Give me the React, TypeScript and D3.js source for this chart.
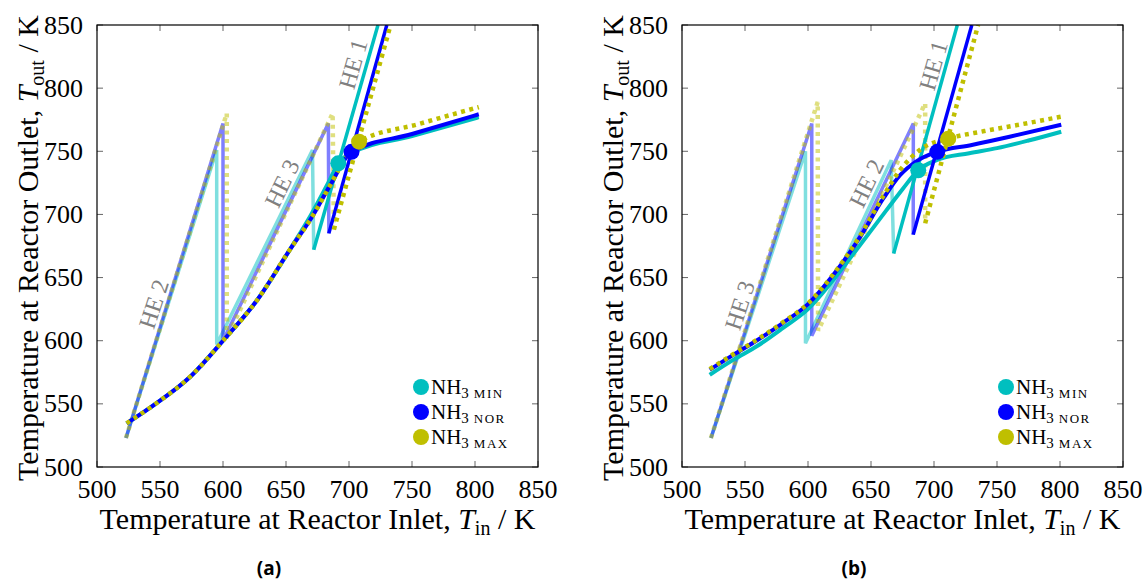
import React from 'react';
import * as d3 from 'd3';

type Pt = [number, number];

const xTicks = [500, 550, 600, 650, 700, 750, 800, 850];
const yTicks = [500, 550, 600, 650, 700, 750, 800, 850];
const caseNames = ['MIN', 'NOR', 'MAX'];
const caseColors = ['#00BFBF', '#0000FF', '#BFBF00'];

// ---- panel (a) ----
const sawA_min: Pt[] = [[523, 523], [595, 751], [595, 597], [671, 751], [672, 672]];
const sawA_nor: Pt[] = [[523, 523], [600, 772], [600, 600], [683.6, 772], [684, 685]];
const sawA_max: Pt[] = [[523, 523], [603, 780], [603, 602], [687, 780], [688, 688]];

const he1A_min: Pt[] = [[672, 672], [723, 850]];
const he1A_nor: Pt[] = [[684, 685], [730, 850]];
const he1A_max: Pt[] = [[688, 688], [733, 850]];

const curveA_min: Pt[] = [[523.5, 534.6], [547, 550.4], [574, 571.5], [600, 600], [627, 632], [653, 672], [670, 700], [684, 726], [691.5, 740.5], [702, 748.5], [750, 762], [803, 777]];
const curveA_nor: Pt[] = [[523.5, 534.6], [547, 550.4], [574, 571.5], [600, 600], [627, 632], [653, 672], [670, 697], [685, 723], [702, 749.6], [750, 763.7], [803, 779.3]];
const curveA_max: Pt[] = [[523.5, 534.6], [547, 550.4], [574, 571.5], [600, 600], [627, 632], [653, 672], [670, 697], [685, 723], [695, 741], [708, 757.6], [755, 771.5], [803, 785]];

const opA: Pt[] = [[691.5, 740.5], [702, 749.6], [708, 757.6]];

// ---- panel (b) ----
const sawB_min: Pt[] = [[523, 523], [598, 750], [598, 598], [666, 743], [668, 669]];
const sawB_nor: Pt[] = [[523, 523], [603, 772], [603, 604], [683.6, 772], [683.5, 684]];
const sawB_max: Pt[] = [[523, 523], [607.7, 789], [608, 608], [693, 788], [693, 693]];

const he1B_min: Pt[] = [[668, 669], [718.5, 850]];
const he1B_nor: Pt[] = [[683.5, 684], [730, 850]];
const he1B_max: Pt[] = [[693, 693], [735, 850]];

const curveB_min: Pt[] = [[522, 573], [541, 585], [560, 596], [580, 610], [600, 625], [620, 648], [640, 674], [662, 703], [675, 720], [687.5, 735], [702, 743], [728, 748.5], [750, 752.5], [775, 758.5], [801, 765.5]];
const curveB_nor: Pt[] = [[522, 577], [541, 589], [559, 600], [580, 614], [600, 629], [620, 652], [640, 680], [660, 713], [673, 731], [686, 742], [702.6, 749.6], [730, 755], [760, 761.5], [801, 771]];
const curveB_max: Pt[] = [[522, 577.5], [541, 589.5], [559, 600.5], [580, 614.5], [600, 629.5], [620, 652.5], [640, 681], [660, 715], [673, 735], [690, 752], [711.3, 760], [740, 766], [770, 771.5], [801, 777.4]];

const opB: Pt[] = [[687.5, 735], [702.6, 749.6], [711.3, 760]];

type HeLabel = { text: string; at: Pt; angle: number };
const labelsA: HeLabel[] = [
  { text: 'HE 2', at: [545.2, 629], angle: -72 },
  { text: 'HE 3', at: [647, 724.6], angle: -64 },
  { text: 'HE 1', at: [703.4, 819], angle: -74 },
];
const labelsB: HeLabel[] = [
  { text: 'HE 3', at: [546, 628], angle: -72 },
  { text: 'HE 2', at: [646.6, 724.6], angle: -64 },
  { text: 'HE 1', at: [699.5, 818], angle: -74 },
];

const serif = 'Liberation Serif, DejaVu Serif, serif';

type PanelProps = {
  left: number;
  id: string;
  saw: Pt[][];
  he1: Pt[][];
  curves: Pt[][];
  ops: Pt[];
  labels: HeLabel[];
  letter: string;
};

const Panel = ({ left, id, saw, he1, curves, ops, labels, letter }: PanelProps) => {
  const top = 25;
  const w = 441;
  const h = 442;
  const x = d3.scaleLinear().domain([500, 850]).range([left, left + w]);
  const y = d3.scaleLinear().domain([500, 850]).range([top + h, top]);
  const straight = d3.line<Pt>().x(d => x(d[0])).y(d => y(d[1]));
  const smooth = d3.line<Pt>().x(d => x(d[0])).y(d => y(d[1])).curve(d3.curveMonotoneX);
  const dotted = (i: number) => (i === 2 ? '4 4.5' : undefined);

  return (
    <g>
      <defs>
        <clipPath id={'clip' + id}>
          <rect x={left} y={top} width={w} height={h} />
        </clipPath>
      </defs>
      <g clipPath={`url(#clip${id})`} fill="none">
        {saw.map((pts, i) => (
          <path key={'s' + i} d={straight(pts) || ''} stroke={caseColors[i]} strokeOpacity={0.5}
            strokeWidth={i === 2 ? 4.5 : 3.5} strokeDasharray={dotted(i)} />
        ))}
        {he1.map((pts, i) => (
          <g key={'g' + i}>
            <path d={straight(pts) || ''} stroke={caseColors[i]} strokeWidth={i === 2 ? 4.5 : 3.5}
              strokeDasharray={dotted(i)} />
            <path d={smooth(curves[i]) || ''} stroke={caseColors[i]} strokeWidth={i === 2 ? 4.5 : 4}
              strokeDasharray={dotted(i)} />
          </g>
        ))}
        {ops.map((p, i) => (
          <circle key={'o' + i} cx={x(p[0])} cy={y(p[1])} r={8} fill={caseColors[i]} />
        ))}
      </g>

      {labels.map((l, i) => (
        <text key={'l' + i} transform={`translate(${x(l.at[0])},${y(l.at[1])}) rotate(${l.angle})`}
          textAnchor="middle" dominantBaseline="central" style={{ fontFamily: serif }} fontSize={24} fill="#808080">
          {l.text}
        </text>
      ))}

      {/* ticks */}
      {xTicks.map(t => (
        <g key={'xt' + t} stroke="#666" strokeWidth={1}>
          <line x1={x(t)} x2={x(t)} y1={top + h} y2={top + h - 6} />
          <line x1={x(t)} x2={x(t)} y1={top} y2={top + 6} />
        </g>
      ))}
      {yTicks.map(t => (
        <g key={'yt' + t} stroke="#666" strokeWidth={1}>
          <line x1={left} x2={left + 6} y1={y(t)} y2={y(t)} />
          <line x1={left + w} x2={left + w - 6} y1={y(t)} y2={y(t)} />
        </g>
      ))}
      <rect x={left} y={top} width={w} height={h} fill="none" stroke="#000" strokeWidth={1.2} />

      {xTicks.map(t => (
        <text key={'xl' + t} x={x(t)} y={top + h + 31} textAnchor="middle" style={{ fontFamily: serif }} fontSize={26}>{t}</text>
      ))}
      {yTicks.map(t => (
        <text key={'yl' + t} x={left - 14} y={y(t) + 8.5} textAnchor="end" style={{ fontFamily: serif }} fontSize={26}>{t}</text>
      ))}

      <text x={left + w / 2} y={top + h + 62} textAnchor="middle" style={{ fontFamily: serif }} fontSize={30}>
        Temperature at Reactor Inlet, <tspan fontStyle="italic">T</tspan>
        <tspan fontSize={20} dy={6}>in</tspan>
        <tspan dy={-6}> / K</tspan>
      </text>
      <text transform={`translate(${left - 59},${top + h / 2 + 2}) rotate(-90)`} textAnchor="middle" style={{ fontFamily: serif }} fontSize={30}>
        Temperature at Reactor Outlet, <tspan fontStyle="italic">T</tspan>
        <tspan fontSize={20} dy={6}>out</tspan>
        <tspan dy={-6}> / K</tspan>
      </text>

      {/* legend */}
      {caseNames.map((n, i) => (
        <g key={'lg' + n}>
          <circle cx={left + 324} cy={387 + i * 25} r={8} fill={caseColors[i]} />
          <text x={left + 334} y={387 + i * 25 + 7} style={{ fontFamily: serif }} fontSize={21}>
            NH<tspan fontSize={15} dy={4}>3</tspan><tspan fontSize={13} dx={5} letterSpacing={1.5}>{n}</tspan>
          </text>
        </g>
      ))}

      <text x={left + 172} y={575} textAnchor="middle" style={{ fontFamily: '"Open Sans", "DejaVu Sans", sans-serif' }}
        fontSize={19} fontWeight={700}>
        ({letter})
      </text>
    </g>
  );
};

const App = () => (
  <div style={{ position: 'absolute', left: 0, top: 0 }}>
    <svg width={1145} height={581} style={{ display: 'block', background: '#fff' }}>
      <Panel left={97} id="a" saw={[sawA_min, sawA_nor, sawA_max]} he1={[he1A_min, he1A_nor, he1A_max]}
        curves={[curveA_min, curveA_nor, curveA_max]} ops={opA} labels={labelsA} letter="a" />
      <Panel left={682} id="b" saw={[sawB_min, sawB_nor, sawB_max]} he1={[he1B_min, he1B_nor, he1B_max]}
        curves={[curveB_min, curveB_nor, curveB_max]} ops={opB} labels={labelsB} letter="b" />
    </svg>
  </div>
);

export default App;
